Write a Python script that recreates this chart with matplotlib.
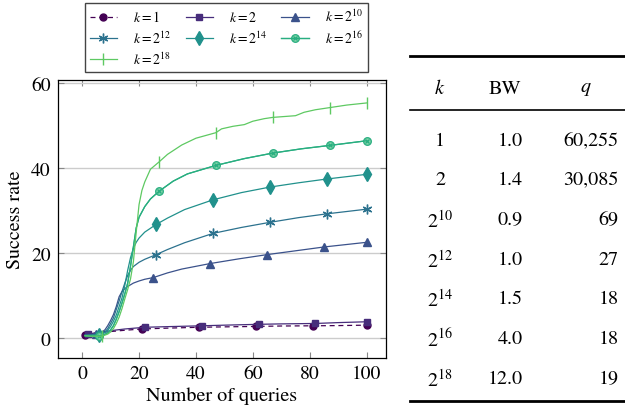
import matplotlib
matplotlib.use("Agg")
import matplotlib.pyplot as plt
from matplotlib.lines import Line2D
from matplotlib.legend_handler import HandlerTuple

plt.rcParams['font.family'] = ['STIXGeneral', 'DejaVu Serif']
plt.rcParams['mathtext.fontset'] = 'stix'

# ---- curve data ----
x_k1 = [1, 5, 10, 15, 21, 30, 41, 50, 61, 70, 81, 90, 100]
y_k1 = [0.85, 1.3, 1.6, 1.9, 2.2, 2.4, 2.6, 2.7, 2.8, 2.9, 2.95, 3.0, 3.1]
m_k1 = [1, 21, 41, 61, 81, 100]

x_k2 = [2, 5, 10, 15, 22, 30, 42, 50, 62, 70, 82, 90, 100]
y_k2 = [1.0, 1.3, 1.8, 2.2, 2.6, 2.75, 2.95, 3.1, 3.3, 3.4, 3.5, 3.7, 3.9]
m_k2 = [2, 22, 42, 62, 82, 100]

x_k10 = [1, 3, 5, 7, 8, 9, 10, 11, 12, 13, 14, 15, 16, 18, 20, 22, 25, 30, 35, 45, 55, 65, 75, 85, 100]
y_k10 = [0.8, 0.9, 1.1, 1.5, 2.0, 3.0, 4.2, 5.6, 7.5, 9.8, 11.0, 11.7, 12.2, 13.0, 13.5, 13.9, 14.3,
         15.4, 16.3, 17.6, 18.7, 19.7, 20.6, 21.5, 22.6]
m_k10 = [5, 25, 45, 65, 85, 100]

x_k12 = [1, 3, 6, 8, 9, 10, 11, 12, 13, 14, 15, 16, 17, 18, 20, 22, 26, 30, 36, 46, 56, 66, 76, 86, 100]
y_k12 = [0.7, 0.8, 1.0, 1.5, 2.3, 3.5, 4.8, 6.8, 8.8, 11.0, 13.0, 14.8, 16.0, 16.9, 17.9, 18.6, 19.7,
         20.9, 22.5, 24.7, 26.1, 27.3, 28.4, 29.3, 30.4]
m_k12 = [6, 26, 46, 66, 86, 100]

x_k14 = [1, 3, 6, 8, 9, 10, 11, 12, 13, 14, 15, 16, 17, 18, 19, 20, 22, 26, 30, 36, 46, 56, 66, 76, 86, 100]
y_k14 = [0.7, 0.7, 0.9, 1.3, 1.9, 2.8, 4.0, 5.5, 7.5, 9.5, 12.5, 16.0, 19.0, 21.2, 22.6, 23.6, 25.0,
         26.8, 28.3, 30.3, 32.6, 34.3, 35.6, 36.6, 37.5, 38.6]
m_k14 = [6, 26, 46, 66, 86, 100]

x_k16 = [1, 3, 6, 7, 9, 10, 11, 12, 13, 14, 15, 16, 17, 18, 19, 20, 22, 24, 27, 32, 37, 47, 57, 67, 77, 87, 100]
y_k16 = [0.6, 0.5, 0.6, 0.6, 1.3, 2.0, 3.0, 4.5, 6.3, 8.3, 10.5, 13.0, 17.0, 21.5, 26.0, 28.5, 31.0,
         32.8, 34.6, 37.0, 38.7, 40.7, 42.3, 43.6, 44.6, 45.4, 46.5]
m_k16 = [6, 27, 47, 67, 87, 100]

x_k18 = [1, 3, 5, 7, 9, 10, 11, 12, 13, 14, 15, 16, 17, 18, 19, 20, 21, 22, 24, 27, 30, 35, 40, 47, 49,
         53, 57, 60, 64, 67, 75, 78, 82, 87, 93, 100]
y_k18 = [0.6, 0.5, 0.5, 0.5, 1.0, 1.5, 2.3, 3.5, 5.0, 7.0, 9.3, 11.5, 14.0, 18.0, 25.0, 31.5, 34.8,
         36.8, 39.8, 41.5, 43.3, 45.5, 47.1, 48.4, 49.3, 49.9, 50.3, 51.1, 51.7, 52.0, 52.4, 53.2,
         53.8, 54.3, 54.9, 55.4]
m_k18 = [7, 27, 47, 67, 87, 100]

labels = [r'$k = 1$', r'$k = 2$', r'$k = 2^{10}$', r'$k = 2^{12}$',
          r'$k = 2^{14}$', r'$k = 2^{16}$', r'$k = 2^{18}$']
colors = ['#440154', '#472d7b', '#3b528b', '#2c728e', '#21918c', '#28ae80', '#5ec962']

# ---- table data ----
tab_k = ['1', '2', r'$2^{10}$', r'$2^{12}$', r'$2^{14}$', r'$2^{16}$', r'$2^{18}$']
tab_bw = ['1.0', '1.4', '0.9', '1.0', '1.5', '4.0', '12.0']
tab_q = ['60,255', '30,085', '69', '27', '18', '18', '19']

W, H = 625, 410
fig = plt.figure(figsize=(6.25, 4.1), dpi=100)
ax = fig.add_axes([57.7 / W, 1 - 359.3 / H, (385.7 - 57.7) / W, (359.3 - 81) / H])


def marks_idx(xs, ms):
    return [xs.index(m) for m in ms]


series = [(x_k1, y_k1, m_k1, 'o', 5, '--'),
          (x_k2, y_k2, m_k2, 's', 5, '-'),
          (x_k10, y_k10, m_k10, '^', 6, '-'),
          (x_k12, y_k12, m_k12, (6, 2, 0), 7, '-'),
          (x_k14, y_k14, m_k14, 'd', 7, '-'),
          (x_k16, y_k16, m_k16, 'o', 5.5, '-'),
          (x_k18, y_k18, m_k18, '|', 8, '-')]

handles = []
for i, (xs, ys, ms, mk, sz, ls) in enumerate(series):
    c = colors[i]
    if i == 5:
        l, = ax.plot(xs, ys, ls, color=c, lw=0.9, marker='o', ms=sz,
                     markevery=marks_idx(xs, ms), mfc='#7fd3a8', mec=c, mew=0.9)
        lx, = ax.plot(xs, ys, ls, color=c, lw=0.9, marker='x', ms=sz * 0.6,
                      markevery=marks_idx(xs, ms), mec=c, mew=0.9)
        handles.append((l, lx))
    else:
        l, = ax.plot(xs, ys, ls, color=c, lw=0.9, marker=mk, ms=sz,
                     markevery=marks_idx(xs, ms), mfc=c, mec=c, mew=1.0,
                     dashes=(4, 3) if ls == '--' else (None, None))
        handles.append(l)

ax.set_xlim(-8.6, 106.7)
ax.set_ylim(-4.7, 60.8)
ax.set_xticks([0, 20, 40, 60, 80, 100])
ax.set_yticks([0, 20, 40, 60])
ax.yaxis.grid(True, color='#cccccc', lw=1.0)
ax.set_axisbelow(True)
ax.tick_params(direction='in', top=True, right=True, length=4, width=0.8,
               color='#888888', labelsize=14, pad=5)
for s in ax.spines.values():
    s.set_linewidth(0.9)
ax.set_xlabel('Number of queries', fontsize=14.5, labelpad=3)
ax.set_ylabel('Success rate', fontsize=14.5, labelpad=5)

order = [0, 3, 6, 1, 4, 2, 5]
leg = fig.legend([handles[i] for i in order], [labels[i] for i in order],
                 loc='upper left', bbox_to_anchor=(84.7 / W, 1 - 4 / H), ncol=3,
                 fontsize=10, handlelength=2.0, handletextpad=1.15, columnspacing=1.0,
                 borderpad=0.35, labelspacing=0.35, fancybox=False, framealpha=1,
                 borderaxespad=0, edgecolor='#444444',
                 handler_map={tuple: HandlerTuple(ndivide=1, pad=0)})
leg.get_frame().set_linewidth(1.0)

# ---- table on the right ----
def fy(py):
    return 1 - py / H


for py, lw in [(57.3, 2.0), (111, 1.2), (401.7, 2.0)]:
    fig.add_artist(Line2D([410 / W, 1.0], [fy(py), fy(py)], transform=fig.transFigure,
                          color='black', lw=lw))

fs = 14.5
fig.text(440 / W, fy(89), '$k$', ha='center', va='center', fontsize=fs)
fig.text(505 / W, fy(89), 'BW', ha='center', va='center', fontsize=fs)
fig.text(586 / W, fy(89), '$q$', ha='center', va='center', fontsize=fs)
for i in range(len(tab_k)):
    py = 141 + 39.7 * i
    fig.text(440 / W, fy(py), tab_k[i], ha='center', va='center', fontsize=fs)
    fig.text(522.5 / W, fy(py), tab_bw[i], ha='right', va='center', fontsize=fs)
    fig.text(618.5 / W, fy(py), tab_q[i], ha='right', va='center', fontsize=fs)

fig.savefig('out.png', dpi=100)
